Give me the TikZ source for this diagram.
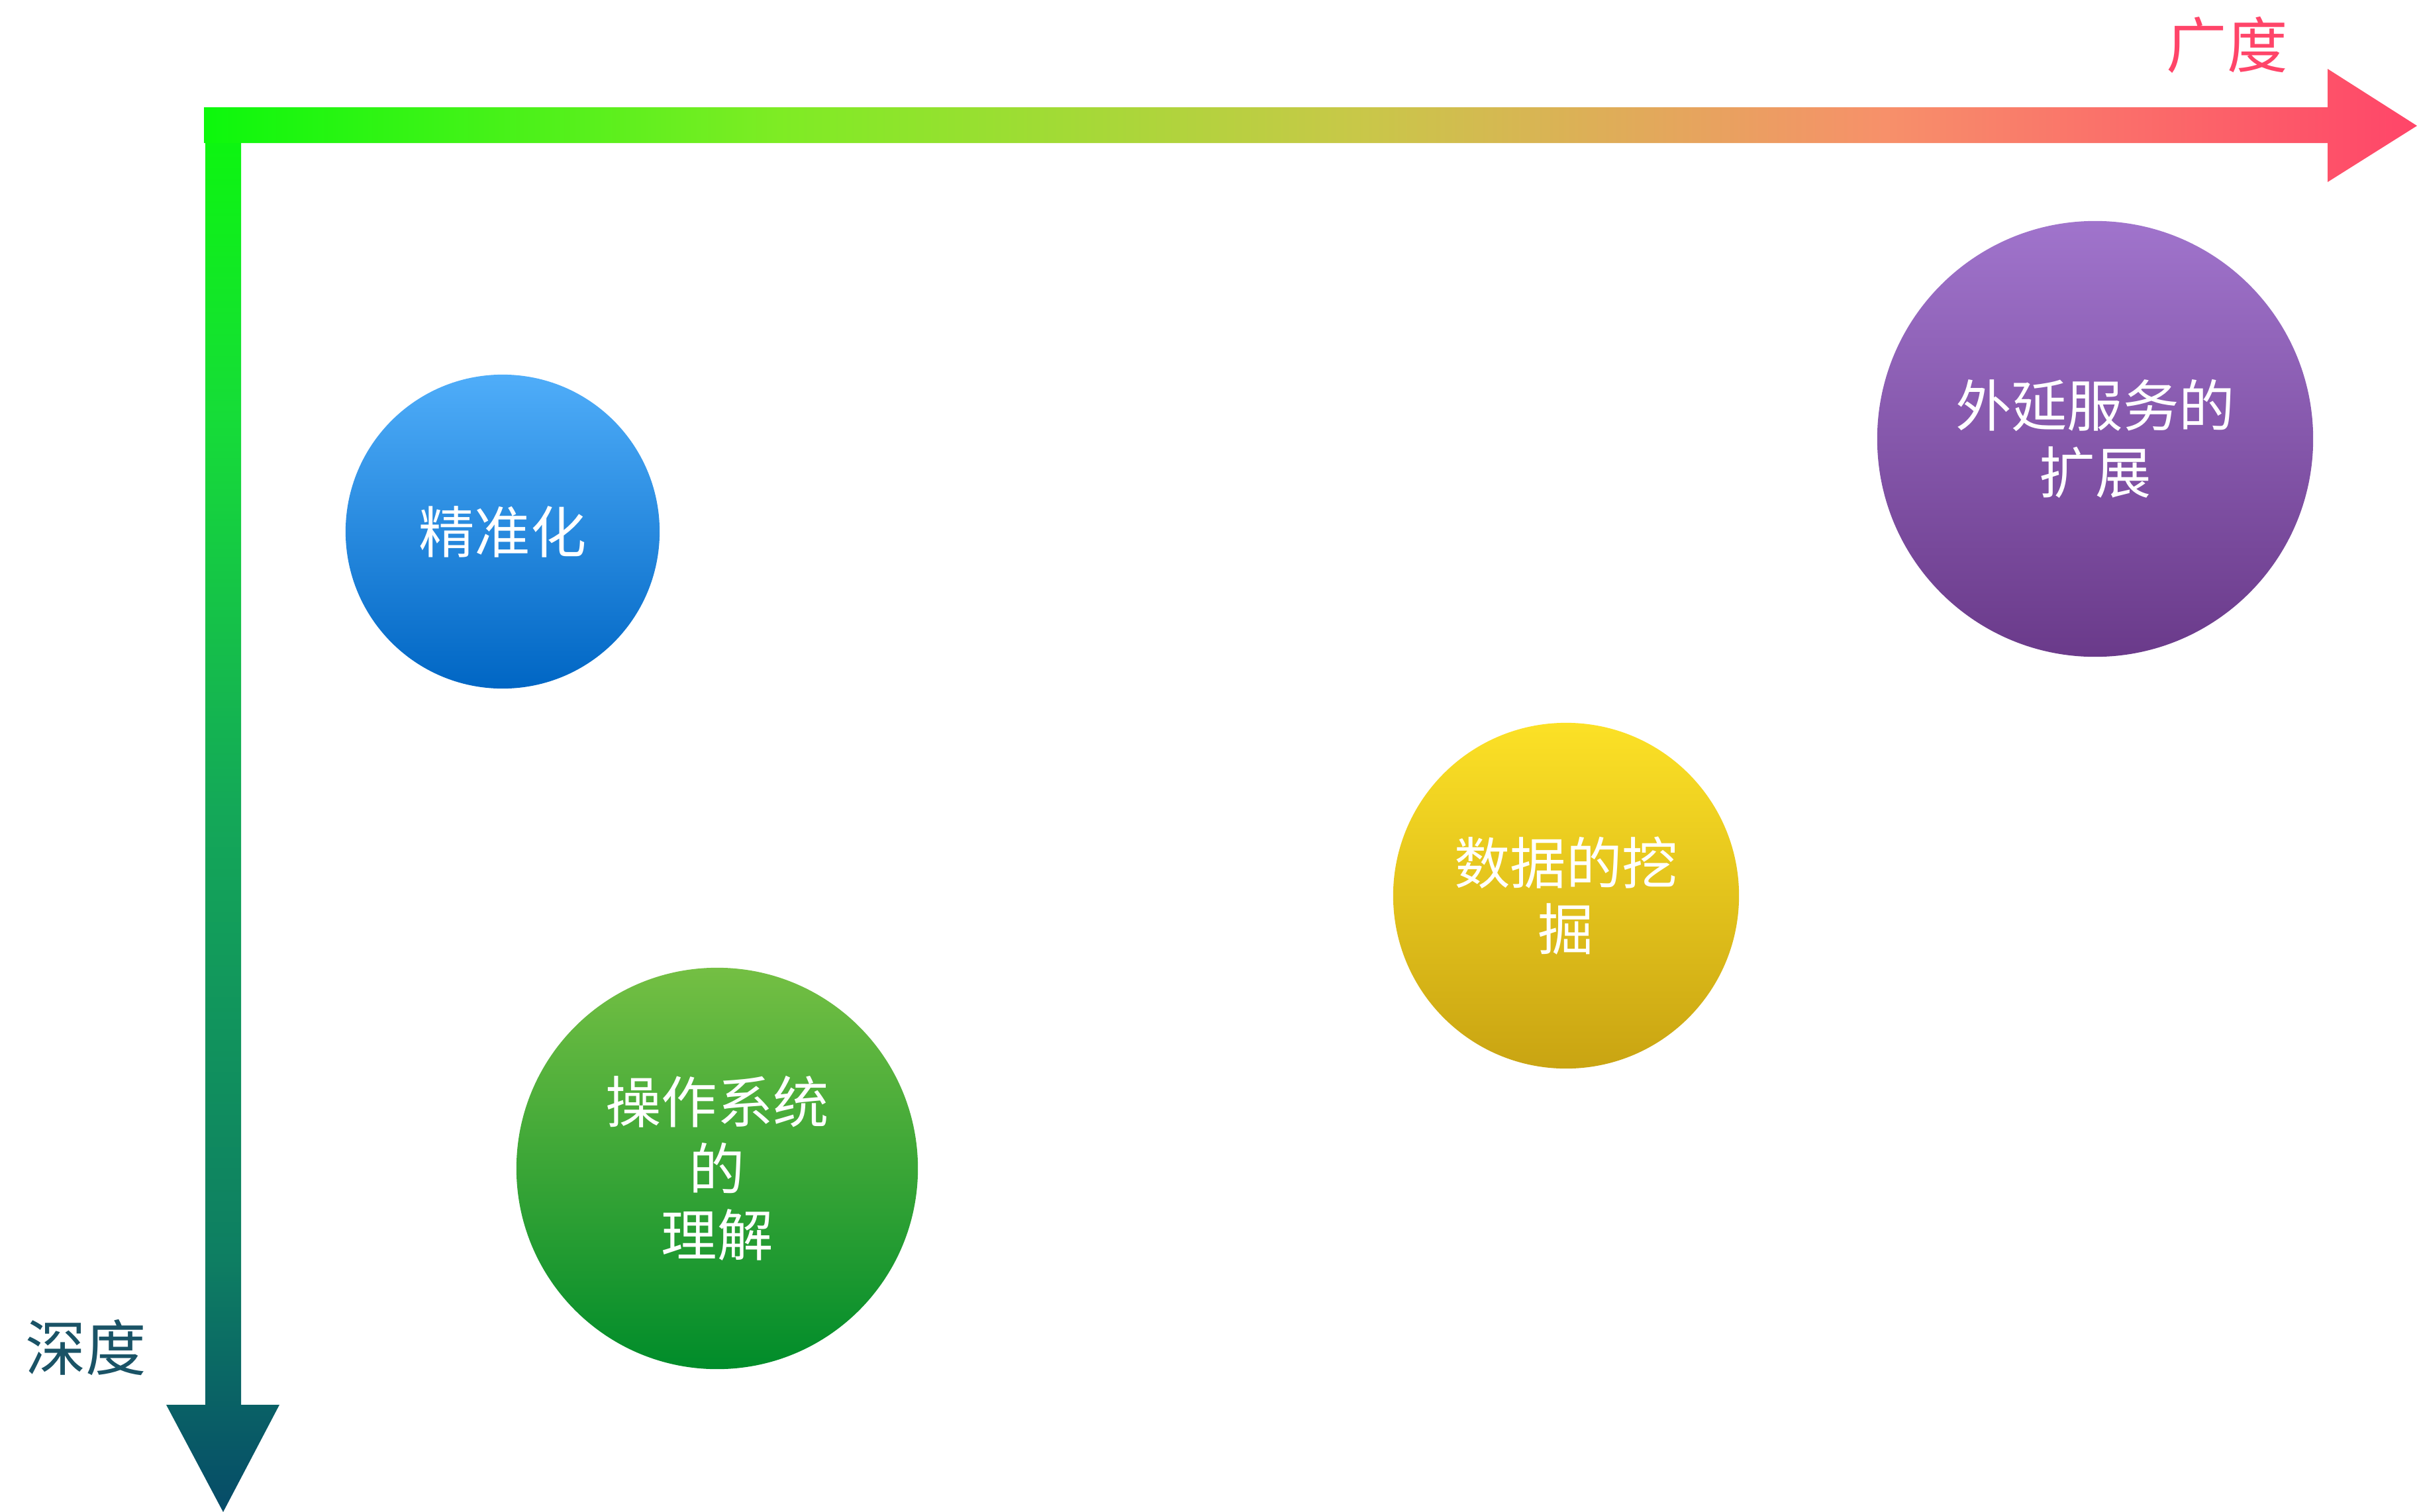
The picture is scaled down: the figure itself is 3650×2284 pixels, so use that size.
\documentclass[tikz,border=0pt]{standalone}
\usepackage{fontspec}
\newfontfamily\cjk{Noto Sans CJK SC}
\usetikzlibrary{positioning}

\definecolor{hax0}{HTML}{0CF80C}
\definecolor{hax1}{HTML}{7EEC24}
\definecolor{hax2}{HTML}{C8C848}
\definecolor{hax3}{HTML}{F7906A}
\definecolor{hax4}{HTML}{FF4569}
\definecolor{vax0}{HTML}{064B68}
\definecolor{vax1}{HTML}{0E7E62}
\definecolor{vax2}{HTML}{14A858}
\definecolor{vax3}{HTML}{16DC38}
\definecolor{vax4}{HTML}{0CF80C}
\pgfdeclarehorizontalshading{breadth}{100bp}{color(0bp)=(hax0); color(25bp)=(hax0);
  color(38bp)=(hax1); color(51bp)=(hax2); color(63bp)=(hax3); color(75bp)=(hax4); color(100bp)=(hax4)}
\pgfdeclareverticalshading{depth}{100bp}{color(0bp)=(vax0); color(25bp)=(vax0);
  color(34bp)=(vax1); color(50bp)=(vax2); color(64bp)=(vax3); color(75bp)=(vax4); color(100bp)=(vax4)}

\begin{document}
\begin{tikzpicture}[x=0.01cm, y=-0.01cm,
  ball/.style={circle, inner sep=0pt, text=white, align=center,
    font=\cjk\fontsize{24pt}{28.5pt}\selectfont},
  axlab/.style={inner sep=0pt, font=\cjk\fontsize{26pt}{30pt}\selectfont}]
\useasboundingbox (0,0) rectangle (3650,2284);
% axes
\shade[shading=depth] (310,162) -- (364,162) -- (364,2122) -- (422,2122)
  -- (337,2284) -- (251,2122) -- (310,2122) -- cycle;
\shade[shading=breadth] (308,162) -- (3515,162) -- (3515,104) -- (3650,190)
  -- (3515,275) -- (3515,216) -- (308,216) -- cycle;
\node[axlab, text=hax4] (br) at (3363,68) {广度};
\node[axlab, text={rgb,255:red,26;green,83;blue,102}] (de) at (130,2036) {深度};
% circles
\node[ball, minimum size=4.74cm, top color={rgb,255:red,79;green,173;blue,249},
  bottom color={rgb,255:red,0;green,102;blue,196}] (jz) at (759,803) {精准化};
\node[ball, minimum size=6.06cm, top color={rgb,255:red,116;green,191;blue,67},
  bottom color={rgb,255:red,0;green,140;blue,42}] (cz) at (1083,1765) {操作系统\\的\\理解};
\node[ball, minimum size=5.22cm, top color={rgb,255:red,252;green,225;blue,38},
  bottom color={rgb,255:red,201;green,164;blue,18}] (sj) at (2365,1353) {数据的挖\\掘};
\node[ball, minimum size=6.58cm, top color={rgb,255:red,160;green,116;blue,204},
  bottom color={rgb,255:red,106;green,58;blue,138}] (wy) at (3164,663) {外延服务的\\扩展};
\end{tikzpicture}
\end{document}
